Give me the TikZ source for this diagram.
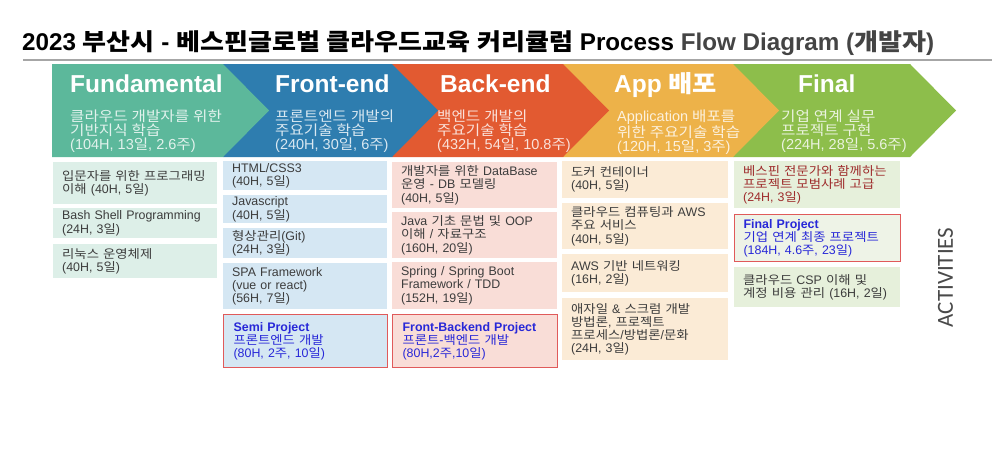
\documentclass[tikz,border=0pt]{standalone}
\usepackage{fontspec}
\setmainfont{Liberation Sans}
\newfontfamily\krfont{Noto Sans CJK KR}[Scale=0.97, FakeStretch=1.11]
\newfontfamily\actfont{Carlito}
\ifdefined\newXeTeXintercharclass
  \newXeTeXintercharclass\krclass
\else
  \chardef\krclass=10
\fi
\newcount\krcnt
\krcnt="AC00
\loop
  \XeTeXcharclass\krcnt=\krclass
  \ifnum\krcnt<"D7A3 \advance\krcnt by 1
\repeat
\XeTeXinterchartokenstate=1
\XeTeXinterchartoks 0 \krclass = {\begingroup\krfont}
\XeTeXinterchartoks 4095 \krclass = {\begingroup\krfont}
\XeTeXinterchartoks \krclass 0 = {\endgroup}
\XeTeXinterchartoks \krclass 4095 = {\endgroup}

\definecolor{cTeal}{HTML}{5CB89B}
\definecolor{cBlue}{HTML}{2E7DAF}
\definecolor{cOrange}{HTML}{E25A31}
\definecolor{cYellow}{HTML}{EDB249}
\definecolor{cGreen}{HTML}{8DBE4B}
\definecolor{fTeal}{HTML}{DDEFE8}
\definecolor{fBlue}{HTML}{D5E7F3}
\definecolor{fOrange}{HTML}{F9DDD7}
\definecolor{fYellow}{HTML}{FBEBD6}
\definecolor{fGreen}{HTML}{E6F0DB}
\definecolor{fGreenL}{HTML}{EEF3E7}
\definecolor{tGray}{HTML}{3C3C3C}
\definecolor{tRed}{HTML}{9E2B2B}
\definecolor{tBlue}{HTML}{2828D8}
\definecolor{bRed}{HTML}{E05A5A}
\definecolor{lineGray}{HTML}{A6A6A6}
\definecolor{actGray}{HTML}{4A4A4A}
\definecolor{titleGray}{HTML}{444444}

\begin{document}
\begin{tikzpicture}[x=1pt,y=-1pt,
  hdr/.style={anchor=base west, inner sep=0pt, text=white,
    font=\fontsize{24.5}{24.5}\selectfont\bfseries},
  subt/.style={anchor=north west, inner sep=0pt, align=left,
    font=\fontsize{14.5}{13.6}\selectfont},
  bx/.style={anchor=north west, inner xsep=9pt, inner ysep=0pt, align=left,
    text=tGray, font=\fontsize{12.4}{13.2}\selectfont},
  redbx/.style={bx, draw=bRed, line width=1.2pt},
  projt/.style={text=tBlue}
]
\fill[white] (0,0) rectangle (998,448);
\useasboundingbox (0,0) rectangle (998,448);

% title
\node[anchor=base west, inner sep=0pt, text=black,
  font=\fontsize{24.2}{24.2}\selectfont\bfseries] (title) at (22,50)
  {2023 부산시 - 베스핀글로벌 클라우드교육 커리큘럼 Process {\color{titleGray}Flow Diagram (개발자)}};
\draw[lineGray, line width=1.5pt] (23,60) -- (992,60);

% chevrons (right to left so each tip overlays the next)
\fill[cGreen]  (733,64) -- (910,64) -- (956,110.5) -- (910,157) -- (733,157) -- cycle;
\fill[cYellow] (563,64) -- (733,64) -- (779,110.5) -- (733,157) -- (563,157) -- cycle;
\fill[cOrange] (392,64) -- (563,64) -- (609,110.5) -- (563,157) -- (392,157) -- cycle;
\fill[cBlue]   (223,64) -- (392,64) -- (438,110.5) -- (392,157) -- (223,157) -- cycle;
\fill[cTeal]   (52,64)  -- (223,64) -- (269,110.5) -- (223,157) -- (52,157)  -- cycle;

% header titles
\node[hdr] (h1) at (70,92)  {Fundamental};
\node[hdr] (h2) at (275,92) {Front-end};
\node[hdr] (h3) at (440,92) {Back-end};
\node[hdr] (h4) at (614,92) {App 배포};
\node[hdr] (h5) at (798,92) {Final};

% header subtitles
\node[subt, text=white!82!cTeal]   (s1) at (70,110)  {클라우드 개발자를 위한\\기반지식 학습\\(104H, 13일, 2.6주)};
\node[subt, text=white!82!cBlue]   (s2) at (275,110) {프론트엔드 개발의\\주요기술 학습\\(240H, 30일, 6주)};
\node[subt, text=white!82!cOrange] (s3) at (437,110) {백엔드 개발의\\주요기술 학습\\(432H, 54일, 10.8주)};
\node[subt, text=white!82!cYellow] (s4) at (617,110) {Application 배포를\\위한 주요기술 학습\\(120H, 15일, 3주)};
\node[subt, text=white!82!cGreen]  (s5) at (781,110) {기업 연계 실무\\프로젝트 구현\\(224H, 28일, 5.6주)};

% column 1
\node[bx, fill=fTeal, text width=146pt, minimum height=42pt] (a1) at (53,162) {입문자를 위한 프로그래밍\\이해 (40H, 5일)};
\node[bx, fill=fTeal, text width=146pt, minimum height=30pt] (a2) at (53,208) {Bash Shell Programming\\(24H, 3일)};
\node[bx, fill=fTeal, text width=146pt, minimum height=34pt] (a3) at (53,244) {리눅스 운영체제\\(40H, 5일)};

% column 2
\node[bx, fill=fBlue, text width=146pt, minimum height=29pt] (b1) at (223,161) {HTML/CSS3\\(40H, 5일)};
\node[bx, fill=fBlue, text width=146pt, minimum height=28pt] (b2) at (223,195) {Javascript\\(40H, 5일)};
\node[bx, fill=fBlue, text width=146pt, minimum height=30pt] (b3) at (223,228) {형상관리(Git)\\(24H, 3일)};
\node[bx, fill=fBlue, text width=146pt, minimum height=46pt] (b4) at (223,263) {SPA Framework\\(vue or react)\\(56H, 7일)};
\node[redbx, fill=fBlue, projt, inner xsep=10pt, text width=144pt, minimum height=53pt] (b5) at (223,314) {{\bfseries Semi Project}\\프론트엔드 개발\\(80H, 2주, 10일)};

% column 3
\node[bx, fill=fOrange, text width=147pt, minimum height=46pt] (c1) at (392,162) {개발자를 위한 DataBase\\운영 - DB 모델링\\(40H, 5일)};
\node[bx, fill=fOrange, text width=147pt, minimum height=46pt] (c2) at (392,212) {Java 기초 문법 및 OOP\\이해 / 자료구조\\(160H, 20일)};
\node[bx, fill=fOrange, text width=147pt, minimum height=47pt] (c3) at (392,262) {Spring / Spring Boot\\Framework / TDD\\(152H, 19일)};
\node[redbx, fill=fOrange, projt, inner xsep=10pt, text width=145pt, minimum height=53pt] (c4) at (392,314) {{\bfseries Front-Backend Project}\\프론트-백엔드 개발\\(80H,2주,10일)};

% column 4
\node[bx, fill=fYellow, text width=148pt, minimum height=37pt] (d1) at (562,161) {도커 컨테이너\\(40H, 5일)};
\node[bx, fill=fYellow, text width=148pt, minimum height=46pt] (d2) at (562,203) {클라우드 컴퓨팅과 AWS\\주요 서비스\\(40H, 5일)};
\node[bx, fill=fYellow, text width=148pt, minimum height=38pt] (d3) at (562,254) {AWS 기반 네트워킹\\(16H, 2일)};
\node[bx, fill=fYellow, text width=148pt, minimum height=62pt] (d4) at (562,298) {애자일 \& 스크럼 개발\\방법론, 프로젝트\\프로세스/방법론/문화\\(24H, 3일)};

% column 5
\node[bx, fill=fGreen, text=tRed, text width=148pt, minimum height=47pt] (e1) at (734,161) {베스핀 전문가와 함께하는\\프로젝트 모범사례 고급\\(24H, 3일)};
\node[redbx, fill=fGreenL, projt, text width=148pt, minimum height=47pt] (e2) at (734,214) {{\bfseries Final Project}\\기업 연계 최종 프로젝트\\(184H, 4.6주, 23일)};
\node[bx, fill=fGreen, text width=148pt, minimum height=40pt] (e3) at (734,267) {클라우드 CSP 이해 및\\계정 비용 관리 (16H, 2일)};

% side label
\node[rotate=90, inner sep=0pt, text=actGray, font=\actfont\fontsize{23}{23}\selectfont] (act) at (945.5,277.5) {ACTIVITIES};
\end{tikzpicture}
\end{document}
